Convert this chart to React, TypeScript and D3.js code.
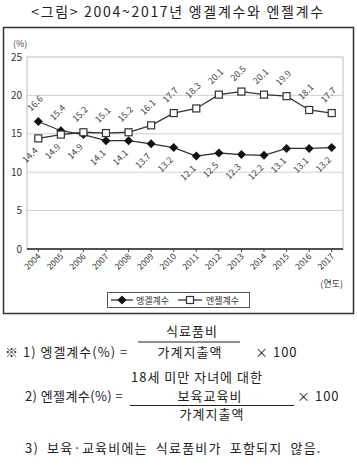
import React from "react";
import * as d3 from "d3";

const years = ["2004","2005","2006","2007","2008","2009","2010","2011","2012","2013","2014","2015","2016","2017"];
const engel = [16.6, 15.4, 14.9, 14.1, 14.1, 13.7, 13.2, 12.1, 12.5, 12.3, 12.2, 13.1, 13.1, 13.2];
const angel = [14.4, 14.9, 15.2, 15.1, 15.2, 16.1, 17.7, 18.3, 20.1, 20.5, 20.1, 19.9, 18.1, 17.7];
const yTicks = [0, 5, 10, 15, 20, 25];
const seriesNames = ["엥겔계수", "엔젤계수"];

const FONT = "'Noto Sans CJK KR', 'Noto Sans', sans-serif";

export default function App() {
  const left = 27, right = 343, top = 57, bottom = 249;
  const x = d3.scaleBand<string>().domain(years).range([left, right]);
  const cx = (y: string) => (x(y) as number) + x.bandwidth() / 2;
  const y = d3.scaleLinear().domain([0, 25]).range([bottom, top]);
  const line = d3.line<number>().x((_, i) => cx(years[i])).y((d) => y(d));

  const diamond = (px: number, py: number, k: string) => (
    <path key={k} d={`M${px},${py - 4.5}L${px + 4.5},${py}L${px},${py + 4.5}L${px - 4.5},${py}Z`} fill="#111" />
  );
  const square = (px: number, py: number, k: string) => (
    <rect key={k} x={px - 3.5} y={py - 3.5} width={7} height={7} fill="#fff" stroke="#333" strokeWidth={1.2} />
  );

  return (
    <svg width={357} height={468} style={{ position: "absolute", left: 0, top: 0, background: "#fff" }} fontFamily={FONT}>
      <text x={178} y={17} textAnchor="middle" fontSize={14} letterSpacing={1.7} fill="#222">
        {"<그림> 2004~2017년 엥겔계수와 엔젤계수"}
      </text>
      <rect x={3.5} y={27.5} width={350} height={286} fill="none" stroke="#333" strokeWidth={1.5} />

      <text x={13} y={47} fontSize={9} fill="#444">(%)</text>
      <rect x={left} y={top} width={right - left} height={bottom - top} fill="none" stroke="#bbb" strokeWidth={1} />
      {yTicks.map((t) => (
        <g key={t}>
          {t > 0 && t < 25 && <line x1={left} x2={right} y1={y(t)} y2={y(t)} stroke="#d0d0d0" strokeWidth={1} />}
          <text x={left - 5} y={y(t) + 3.5} textAnchor="end" fontSize={10} fill="#333">{t}</text>
        </g>
      ))}
      <line x1={left} x2={right} y1={bottom} y2={bottom} stroke="#222" strokeWidth={1.5} />
      {years.map((yr) => (
        <g key={yr}>
          <line x1={cx(yr)} x2={cx(yr)} y1={bottom} y2={bottom + 3} stroke="#444" />
          <text transform={`translate(${cx(yr) + 3},${bottom + 8}) rotate(-45)`} textAnchor="end" fontSize={8.5} fill="#333">{yr}</text>
        </g>
      ))}
      <text x={343} y={287} textAnchor="end" fontSize={9} fill="#333">(연도)</text>

      <path d={line(engel) || ""} fill="none" stroke="#333" strokeWidth={1.3} />
      <path d={line(angel) || ""} fill="none" stroke="#333" strokeWidth={1.3} />
      {engel.map((v, i) => diamond(cx(years[i]), y(v), "e" + i))}
      {angel.map((v, i) => square(cx(years[i]), y(v), "a" + i))}

      {years.map((yr, i) => {
        const hi = Math.max(engel[i], angel[i]);
        const lo = Math.min(engel[i], angel[i]);
        const px = cx(yr);
        return (
          <g key={"l" + yr} fontSize={9} fill="#444">
            <text transform={`translate(${px - 1},${y(hi) - 16}) rotate(-45)`} textAnchor="middle">{hi.toFixed(1)}</text>
            <text transform={`translate(${px - 6},${y(lo) + 19}) rotate(-45)`} textAnchor="middle">{lo.toFixed(1)}</text>
          </g>
        );
      })}

      <rect x={107.5} y={292.5} width={142} height={15} fill="#fff" stroke="#555" strokeWidth={1} />
      <line x1={111} x2={133} y1={300} y2={300} stroke="#333" strokeWidth={1.3} />
      {diamond(122, 300, "ld")}
      <text x={136} y={303.5} fontSize={9} fill="#333">{seriesNames[0]}</text>
      <line x1={178} x2={202} y1={300} y2={300} stroke="#333" strokeWidth={1.3} />
      {square(190, 300, "ls")}
      <text x={206} y={303.5} fontSize={9} fill="#333">{seriesNames[1]}</text>

      <g fontSize={13} letterSpacing={1} fill="#222">
        <text x={192} y={336} textAnchor="middle">식료품비</text>
        <line x1={138} x2={240} y1={342} y2={342} stroke="#222" strokeWidth={1} />
        <text x={5} y={357}>※ 1) 엥겔계수(%) =</text>
        <text x={190} y={357} textAnchor="middle">가계지출액</text>
        <text x={255} y={357}>× 100</text>

        <text x={197} y={382} textAnchor="middle">18세 미만 자녀에 대한</text>
        <text x={25} y={401} letterSpacing={0.4}>2) 엔젤계수(%) =</text>
        <text x={210} y={401} textAnchor="middle">보육교육비</text>
        <text x={297} y={401}>× 100</text>
        <line x1={130} x2={294} y1={405.5} y2={405.5} stroke="#222" strokeWidth={1} />
        <text x={212} y={419} textAnchor="middle">가계지출액</text>

        <text x={25} y={453} letterSpacing={1.2} wordSpacing={4}>3) 보육·교육비에는 식료품비가 포함되지 않음.</text>
      </g>
    </svg>
  );
}
